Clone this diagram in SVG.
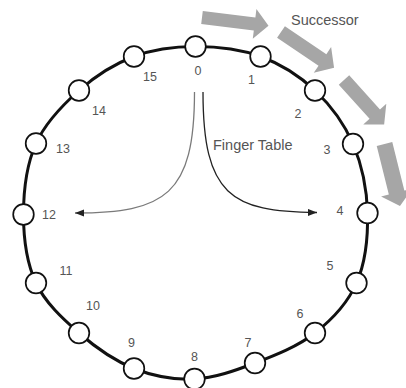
<svg xmlns="http://www.w3.org/2000/svg" width="406" height="388" viewBox="0 0 406 388">
  <style>
    .ring { fill: none; stroke: #111; stroke-width: 3; }
    .node { fill: #fff; stroke: #111; stroke-width: 1.7; }
    .num { font-family: "Liberation Sans", "Noto Sans CJK JP", sans-serif; font-size: 12.5px; fill: #555; text-anchor: middle; }
    .caption { font-family: "Liberation Sans", "Noto Sans CJK JP", sans-serif; font-size: 14.5px; fill: #555; }
    .block { fill: #a6a6a6; }
    .finger { fill: none; stroke-width: 1.3; }
  </style>
  <defs>
    <marker id="tipDark" markerUnits="userSpaceOnUse" markerWidth="10" markerHeight="8" refX="9" refY="3.5" orient="auto">
      <path d="M0,0 L9,3.5 L0,7 Z" fill="#222"/>
    </marker>
  </defs>

  <!-- identifier ring -->
  <g id="ring">
    <path class="ring" d="M195.5,46.5 C216.58,46.5 240.58,49.17 260.5,56.5 C280.42,63.83 299.58,75.92 315,90.5 C330.42,105.08 344.25,123.58 353,144 C361.75,164.42 366.92,189.83 367.5,213 C368.08,236.17 365.25,263 356.5,283 C347.75,303 331.92,319.67 315,333 C298.08,346.33 275.08,355.33 255,363 C234.92,370.67 214.67,378.08 194.5,379 C174.33,379.92 153.25,376.17 134,368.5 C114.75,360.83 95.33,347.25 79,333 C62.67,318.75 45.25,302.75 36,283 C26.75,263.25 23.5,237.75 23.5,214.5 C23.5,191.25 26.75,164.17 36,143.5 C45.25,122.83 62.67,105 79,90.5 C95.33,76 114.58,63.83 134,56.5 C153.42,49.17 174.42,46.5 195.5,46.5 Z"/>
  </g>

  <!-- successor direction: block arrows outside the ring -->
  <g id="successor">
    <path class="block" transform="translate(202,17.5) rotate(7)" d="M0,-6.5 L53,-6.5 L53,-15 L67,0 L53,15 L53,6.5 L0,6.5 Z"/>
    <path class="block" transform="translate(281,32) rotate(34)" d="M0,-7 L50,-7 L50,-15.5 L64,0 L50,15.5 L50,7 L0,7 Z"/>
    <path class="block" transform="translate(344,80) rotate(48)" d="M0,-7 L46,-7 L46,-15.5 L60,0 L46,15.5 L46,7 L0,7 Z"/>
    <path class="block" transform="translate(384.5,144) rotate(76)" d="M0,-8 L50,-8 L50,-16 L64,0 L50,16 L50,8 L0,8 Z"/>
    <text class="caption" x="291" y="25">Successor</text>
  </g>

  <!-- finger table pointers from node 0 -->
  <g id="connectors">
    <path class="finger" stroke="#7a7a7a" d="M194.5,92 C194.5,195 165,213 75,213" marker-end="url(#tipDark)"/>
    <path class="finger" stroke="#222" d="M203,92 C203,195 231,212 317,212.5" marker-end="url(#tipDark)"/>
    <text class="caption" x="213" y="150">Finger Table</text>
  </g>

  <!-- nodes -->
  <g id="node-0"><circle class="node" cx="195.5" cy="46.5" r="10.3"/><text class="num" x="198" y="74.5">0</text></g>
  <g id="node-1"><circle class="node" cx="260.5" cy="56.5" r="10.3"/><text class="num" x="251.5" y="83.5">1</text></g>
  <g id="node-2"><circle class="node" cx="315" cy="90.5" r="10.3"/><text class="num" x="298" y="118">2</text></g>
  <g id="node-3"><circle class="node" cx="353" cy="144" r="10.3"/><text class="num" x="327" y="153.5">3</text></g>
  <g id="node-4"><circle class="node" cx="367.5" cy="213" r="10.3"/><text class="num" x="340" y="215">4</text></g>
  <g id="node-5"><circle class="node" cx="356.5" cy="283" r="10.3"/><text class="num" x="330" y="270">5</text></g>
  <g id="node-6"><circle class="node" cx="315" cy="333" r="10.3"/><text class="num" x="300" y="317.5">6</text></g>
  <g id="node-7"><circle class="node" cx="255" cy="363" r="10.3"/><text class="num" x="248" y="347">7</text></g>
  <g id="node-8"><circle class="node" cx="194.5" cy="379" r="10.3"/><text class="num" x="194.5" y="360.5">8</text></g>
  <g id="node-9"><circle class="node" cx="134" cy="368.5" r="10.3"/><text class="num" x="131.5" y="347">9</text></g>
  <g id="node-10"><circle class="node" cx="79" cy="333" r="10.3"/><text class="num" x="93" y="310">10</text></g>
  <g id="node-11"><circle class="node" cx="36" cy="283" r="10.3"/><text class="num" x="66" y="275">11</text></g>
  <g id="node-12"><circle class="node" cx="23.5" cy="214.5" r="10.3"/><text class="num" x="49" y="218.5">12</text></g>
  <g id="node-13"><circle class="node" cx="36" cy="143.5" r="10.3"/><text class="num" x="63" y="152.5">13</text></g>
  <g id="node-14"><circle class="node" cx="79" cy="90.5" r="10.3"/><text class="num" x="99" y="115">14</text></g>
  <g id="node-15"><circle class="node" cx="134" cy="56.5" r="10.3"/><text class="num" x="150" y="81">15</text></g>
</svg>
